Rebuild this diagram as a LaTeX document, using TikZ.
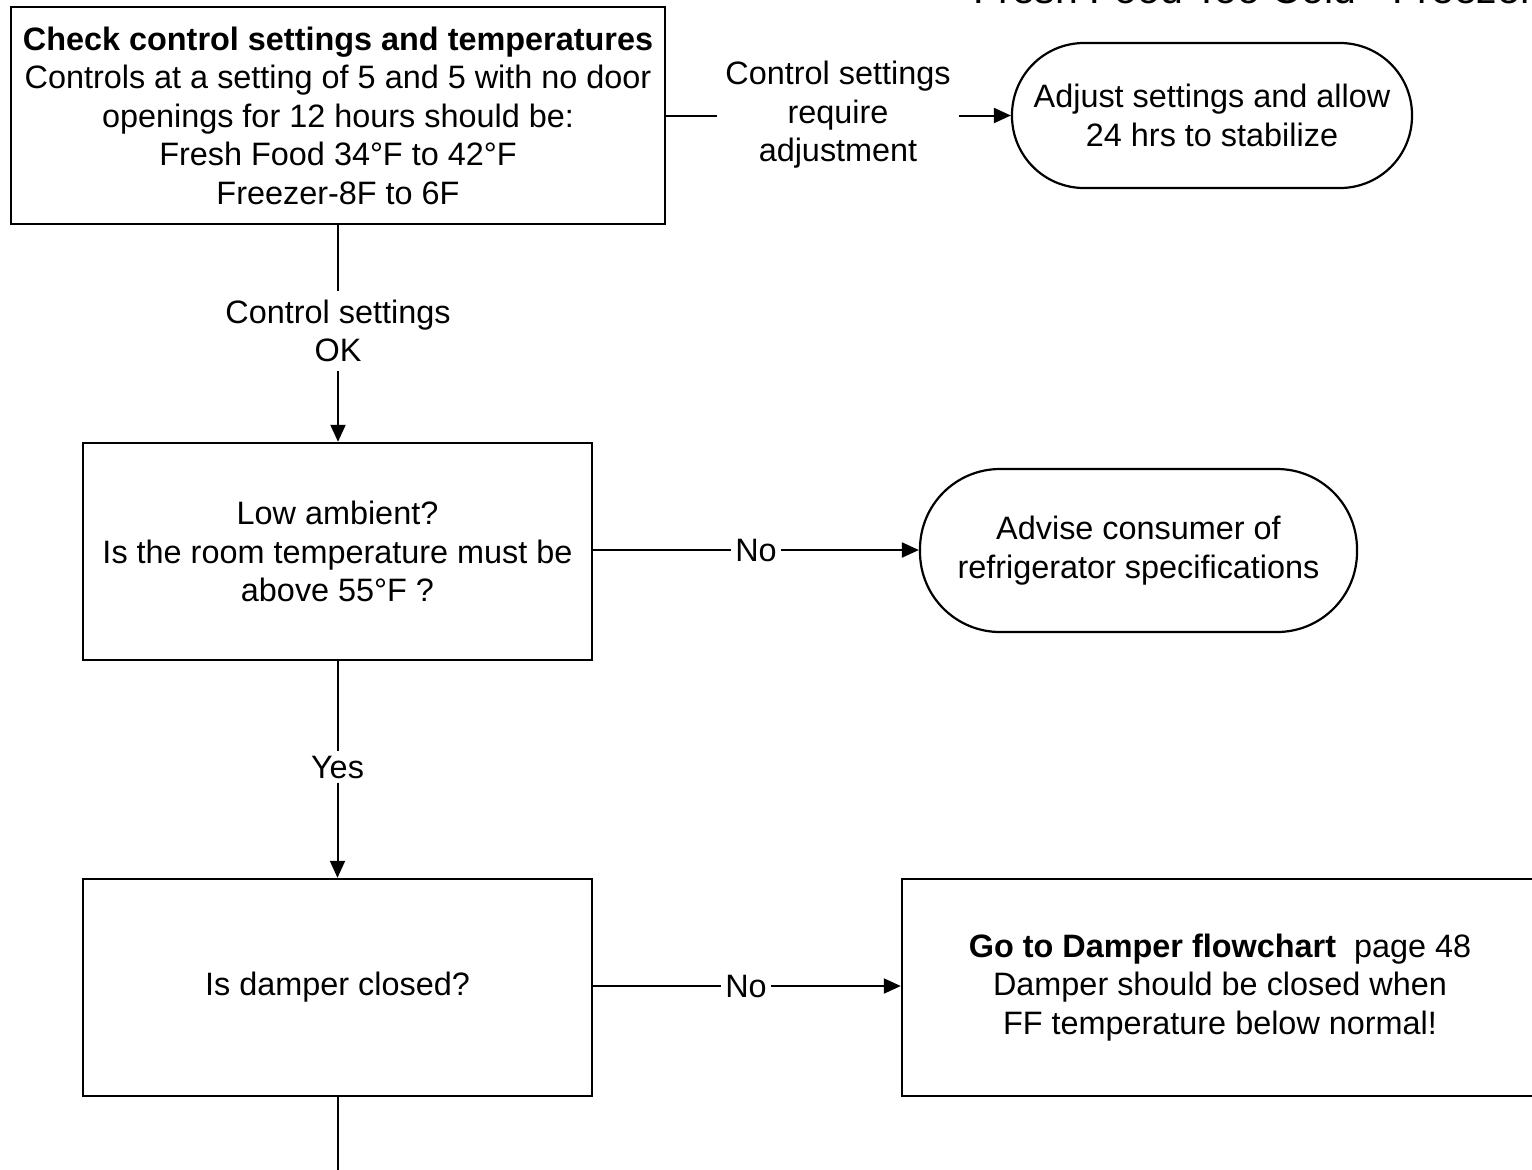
\documentclass[tikz,border=0pt]{standalone}
\usepackage{fontspec}
\setmainfont{Liberation Sans}
\usetikzlibrary{arrows.meta}
\begin{document}
\begin{tikzpicture}[x=0.5pt,y=-0.5pt,
  every node/.style={font=\fontsize{16.2pt}{19.25pt}\selectfont, align=center},
  procbox/.style={draw, line width=1.2pt, inner sep=0pt},
  termbox/.style={draw, line width=1.1pt, inner sep=0pt},
  lbl/.style={inner sep=2pt},
  conn/.style={line width=1pt},
  arr/.style={conn, -{Triangle[length=8.5pt,width=7.5pt]}}]
\useasboundingbox (0,0) rectangle (1532,1169);
\clip (0,0) rectangle (1532,1169);
\fill[white] (0,0) rectangle (1532,1169);

% page heading, running off the top edge
\node[anchor=base west, inner sep=0pt, font=\fontsize{20.5pt}{24pt}\selectfont] (heading) at (973,3) {Fresh Food Too Cold - Freezer};

% boxes
\node[procbox, minimum width=327pt, minimum height=108.5pt] (check) at (338,115.5)
  {\textbf{Check control settings and temperatures}\\
   Controls at a setting of 5 and 5 with no door\\
   openings for 12 hours should be:\\
   Fresh Food 34°F to 42°F\\
   Freezer-8F to 6F};
\node[termbox, minimum width=200pt, minimum height=72.5pt, rounded corners=36pt] (adjust) at (1212,115.5)
  {Adjust settings and allow\\24 hrs to stabilize};
\node[procbox, minimum width=254.5pt, minimum height=108.5pt] (ambient) at (337.5,551.5)
  {Low ambient?\\Is the room temperature must be\\above 55°F ?};
\node[termbox, minimum width=218.5pt, minimum height=81.5pt, rounded corners=40pt] (advise) at (1138.5,550.5)
  {Advise consumer of\\refrigerator specifications};
\node[procbox, minimum width=254.5pt, minimum height=108.5pt] (damper) at (337.5,987.5)
  {Is damper closed?};
\node[procbox, minimum width=318pt, minimum height=108.5pt] (goto) at (1220,987.5)
  {\textbf{Go to Damper flowchart}\ \ page 48\\
   Damper should be closed when\\
   FF temperature below normal!};

% connector labels
\node[lbl, inner sep=4pt] (reqadj) at (838,115) {Control settings\\require\\adjustment};
\node[lbl, inner sep=4pt] (ok) at (338,331) {Control settings\\OK};
\node[lbl] (no1) at (756,550) {No};
\node[lbl] (yes) at (337.5,767) {Yes};
\node[lbl] (no2) at (746,986) {No};
\coordinate (down) at (337.5,1180);

% connectors
\draw[conn] (check.east) -- (reqadj.west |- check.east);
\draw[arr] (reqadj.east |- check.east) -- (adjust.west);
\draw[conn] (check.south) -- (ok.north);
\draw[arr] (ok.south) -- (ok.south |- ambient.north);
\draw[conn] (ambient.east |- no1.west) -- (no1.west);
\draw[arr] (no1.east) -- (no1.east -| advise.west);
\draw[conn] (ambient.south) -- (yes.north);
\draw[arr] (yes.south) -- (damper.north);
\draw[conn] (damper.east |- no2.west) -- (no2.west);
\draw[arr] (no2.east) -- (no2.east -| goto.west);
\draw[conn] (damper.south) -- (down);
\end{tikzpicture}
\end{document}
